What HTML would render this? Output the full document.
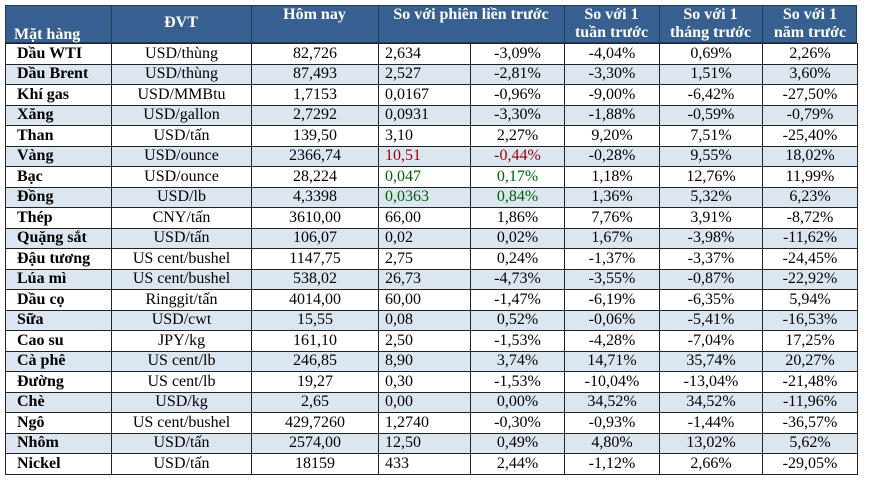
<!DOCTYPE html>
<html><head><meta charset="utf-8"><style>
body{margin:0;width:870px;height:481px;background:#fff;position:relative;overflow:hidden;font-family:"Liberation Serif",serif;}
.hdr{position:absolute;left:5px;top:5px;width:852px;height:38px;background:#376091;border:1px solid #1f3a5f;box-sizing:border-box;}
.h{position:absolute;color:#fff;font-weight:bold;font-size:16px;line-height:18px;text-align:center;}
.vl{position:absolute;top:0;width:1px;height:38px;background:#1f3a5f;}
table{position:absolute;left:5px;top:43px;border-collapse:collapse;table-layout:fixed;width:852px;}
td{border:1px solid #222;height:19.5px;padding:0;font-size:16px;line-height:18px;text-align:center;white-space:nowrap;overflow:hidden;}
tr:nth-child(even) td{background:#dce6f1;}
td:first-child{text-align:left;font-weight:bold;padding-left:11px;}
td:nth-child(4){text-align:left;padding-left:6px;}
.r{color:#9c0006}.g{color:#006100}
</style></head><body>
<div class="hdr">
<div class="vl" style="left:105px"></div><div class="vl" style="left:245px"></div><div class="vl" style="left:372px"></div><div class="vl" style="left:558px"></div><div class="vl" style="left:653px"></div><div class="vl" style="left:756px"></div>
<div class="h" style="left:8px;top:20px;text-align:left">Mặt hàng</div>
<div class="h" style="left:105px;width:140px;top:8px">ĐVT</div>
<div class="h" style="left:245px;width:127px;top:0px">Hôm nay</div>
<div class="h" style="left:372px;width:186px;top:0px">So với phiên liền trước</div>
<div class="h" style="left:558px;width:95px;top:0px">So với 1<br>tuần trước</div>
<div class="h" style="left:653px;width:103px;top:0px">So với 1<br>tháng trước</div>
<div class="h" style="left:756px;width:96px;top:0px">So với 1<br>năm trước</div>
</div>
<table>
<colgroup><col style="width:106px"><col style="width:140px"><col style="width:127px"><col style="width:92px"><col style="width:94px"><col style="width:95px"><col style="width:103px"><col style="width:95px"></colgroup>
<tr><td>Dầu WTI</td><td>USD/thùng</td><td>82,726</td><td>2,634</td><td>-3,09%</td><td>-4,04%</td><td>0,69%</td><td>2,26%</td></tr>
<tr><td>Dầu Brent</td><td>USD/thùng</td><td>87,493</td><td>2,527</td><td>-2,81%</td><td>-3,30%</td><td>1,51%</td><td>3,60%</td></tr>
<tr><td>Khí gas</td><td>USD/MMBtu</td><td>1,7153</td><td>0,0167</td><td>-0,96%</td><td>-9,00%</td><td>-6,42%</td><td>-27,50%</td></tr>
<tr><td>Xăng</td><td>USD/gallon</td><td>2,7292</td><td>0,0931</td><td>-3,30%</td><td>-1,88%</td><td>-0,59%</td><td>-0,79%</td></tr>
<tr><td>Than</td><td>USD/tấn</td><td>139,50</td><td>3,10</td><td>2,27%</td><td>9,20%</td><td>7,51%</td><td>-25,40%</td></tr>
<tr><td>Vàng</td><td>USD/ounce</td><td>2366,74</td><td class="r">10,51</td><td class="r">-0,44%</td><td>-0,28%</td><td>9,55%</td><td>18,02%</td></tr>
<tr><td>Bạc</td><td>USD/ounce</td><td>28,224</td><td class="g">0,047</td><td class="g">0,17%</td><td>1,18%</td><td>12,76%</td><td>11,99%</td></tr>
<tr><td>Đồng</td><td>USD/lb</td><td>4,3398</td><td class="g">0,0363</td><td class="g">0,84%</td><td>1,36%</td><td>5,32%</td><td>6,23%</td></tr>
<tr><td>Thép</td><td>CNY/tấn</td><td>3610,00</td><td>66,00</td><td>1,86%</td><td>7,76%</td><td>3,91%</td><td>-8,72%</td></tr>
<tr><td>Quặng sắt</td><td>USD/tấn</td><td>106,07</td><td>0,02</td><td>0,02%</td><td>1,67%</td><td>-3,98%</td><td>-11,62%</td></tr>
<tr><td>Đậu tương</td><td>US cent/bushel</td><td>1147,75</td><td>2,75</td><td>0,24%</td><td>-1,37%</td><td>-3,37%</td><td>-24,45%</td></tr>
<tr><td>Lúa mì</td><td>US cent/bushel</td><td>538,02</td><td>26,73</td><td>-4,73%</td><td>-3,55%</td><td>-0,87%</td><td>-22,92%</td></tr>
<tr><td>Dầu cọ</td><td>Ringgit/tấn</td><td>4014,00</td><td>60,00</td><td>-1,47%</td><td>-6,19%</td><td>-6,35%</td><td>5,94%</td></tr>
<tr><td>Sữa</td><td>USD/cwt</td><td>15,55</td><td>0,08</td><td>0,52%</td><td>-0,06%</td><td>-5,41%</td><td>-16,53%</td></tr>
<tr><td>Cao su</td><td>JPY/kg</td><td>161,10</td><td>2,50</td><td>-1,53%</td><td>-4,28%</td><td>-7,04%</td><td>17,25%</td></tr>
<tr><td>Cà phê</td><td>US cent/lb</td><td>246,85</td><td>8,90</td><td>3,74%</td><td>14,71%</td><td>35,74%</td><td>20,27%</td></tr>
<tr><td>Đường</td><td>US cent/lb</td><td>19,27</td><td>0,30</td><td>-1,53%</td><td>-10,04%</td><td>-13,04%</td><td>-21,48%</td></tr>
<tr><td>Chè</td><td>USD/kg</td><td>2,65</td><td>0,00</td><td>0,00%</td><td>34,52%</td><td>34,52%</td><td>-11,96%</td></tr>
<tr><td>Ngô</td><td>US cent/bushel</td><td>429,7260</td><td>1,2740</td><td>-0,30%</td><td>-0,93%</td><td>-1,44%</td><td>-36,57%</td></tr>
<tr><td>Nhôm</td><td>USD/tấn</td><td>2574,00</td><td>12,50</td><td>0,49%</td><td>4,80%</td><td>13,02%</td><td>5,62%</td></tr>
<tr><td>Nickel</td><td>USD/tấn</td><td>18159</td><td>433</td><td>2,44%</td><td>-1,12%</td><td>2,66%</td><td>-29,05%</td></tr>
</table>
</body></html>
